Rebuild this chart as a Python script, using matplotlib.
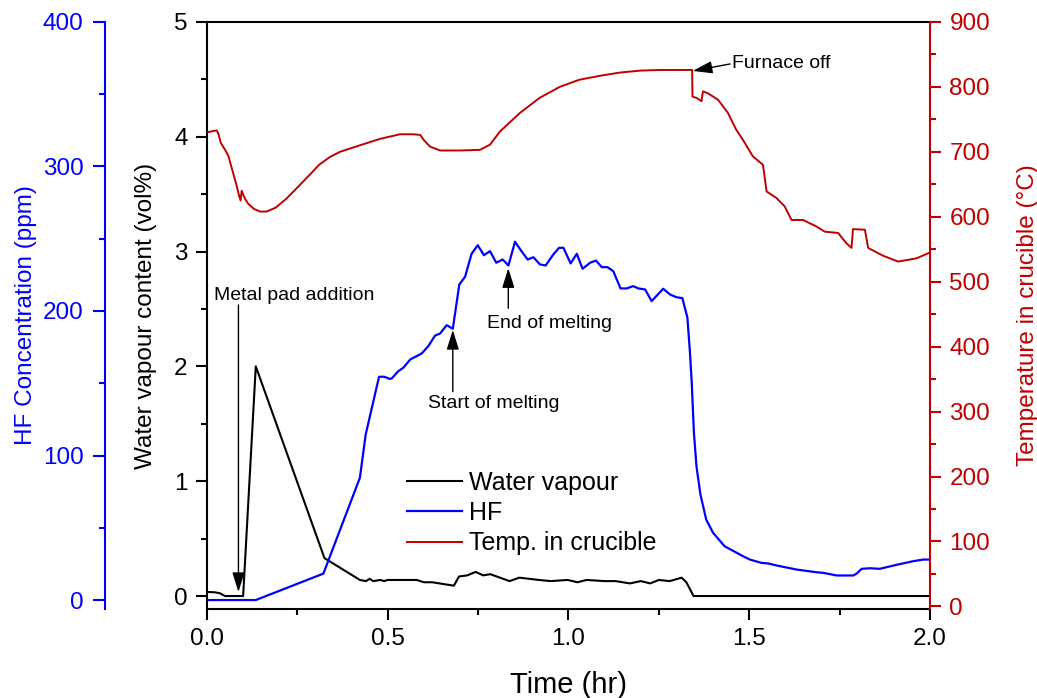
import matplotlib
matplotlib.use("Agg")
import matplotlib.pyplot as plt
from matplotlib.ticker import MultipleLocator, FormatStrFormatter

plt.rcParams['font.family'] = ['Liberation Sans', 'DejaVu Sans']

# water vapour (vol%)
water_t = [0.0, 0.02, 0.035, 0.05, 0.1, 0.135, 0.325, 0.423, 0.44, 0.45, 0.46, 0.48,
           0.49, 0.5, 0.55, 0.58, 0.6, 0.623, 0.683, 0.697, 0.72, 0.743, 0.764, 0.784,
           0.837, 0.864, 0.918, 0.95, 0.998, 1.025, 1.05, 1.1, 1.13, 1.15, 1.17, 1.2,
           1.226, 1.25, 1.28, 1.313, 1.326, 1.346, 2.0]
water_v = [0.035, 0.033, 0.025, 0.0, 0.0, 2.0, 0.33, 0.14, 0.13, 0.15, 0.13, 0.14,
           0.13, 0.14, 0.14, 0.14, 0.12, 0.12, 0.09, 0.17, 0.18, 0.21, 0.18, 0.19,
           0.13, 0.16, 0.14, 0.13, 0.14, 0.12, 0.14, 0.13, 0.13, 0.12, 0.11, 0.13,
           0.11, 0.14, 0.13, 0.16, 0.12, 0.0, 0.0]

# HF concentration (ppm)
hf_t = [0.0, 0.135, 0.322, 0.423, 0.439, 0.476, 0.49, 0.506, 0.511, 0.529, 0.543,
        0.562, 0.594, 0.612, 0.631, 0.645, 0.663, 0.68, 0.698, 0.714, 0.732, 0.749,
        0.766, 0.783, 0.8, 0.818, 0.834, 0.852, 0.87, 0.887, 0.903, 0.921, 0.937,
        0.958, 0.974, 0.986, 1.006, 1.023, 1.039, 1.06, 1.076, 1.092, 1.108, 1.124,
        1.144, 1.161, 1.179, 1.193, 1.212, 1.23, 1.262, 1.281, 1.299, 1.315, 1.329,
        1.336, 1.341, 1.347, 1.354, 1.365, 1.381, 1.4, 1.432, 1.483, 1.502, 1.534,
        1.553, 1.576, 1.631, 1.687, 1.705, 1.742, 1.788, 1.797, 1.811, 1.834, 1.861,
        1.908, 1.954, 1.981, 2.0]
hf_v = [0.0, 0.0, 18.3, 84.6, 114.5, 154.5, 154.5, 153.0, 153.3, 158.3, 160.7,
        166.4, 170.6, 175.6, 183.0, 184.4, 190.2, 187.7, 218.3, 223.7, 239.6, 245.5,
        238.6, 241.4, 233.4, 235.6, 231.5, 247.9, 241.4, 235.6, 237.2, 232.2, 231.5,
        239.1, 243.7, 243.7, 232.9, 239.6, 229.2, 233.4, 234.9, 230.3, 230.3, 227.5,
        215.6, 215.6, 217.2, 215.6, 214.9, 206.8, 215.4, 211.4, 209.5, 208.9, 195.3,
        171.3, 150.3, 115.7, 92.6, 73.0, 55.7, 46.5, 37.2, 30.3, 28.0, 25.7,
        25.3, 23.9, 21.1, 19.2, 18.8, 17.0, 17.0, 18.3, 21.6, 22.0, 21.6,
        24.4, 26.9, 28.0, 28.0]

# temperature in crucible (degC)
temp_t = [0.0, 0.027, 0.032, 0.038, 0.05, 0.059, 0.073, 0.082, 0.089, 0.093, 0.096,
          0.098, 0.105, 0.114, 0.13, 0.147, 0.165, 0.19, 0.22, 0.257, 0.29, 0.31,
          0.34, 0.368, 0.423, 0.479, 0.534, 0.57, 0.59, 0.6, 0.617, 0.645, 0.7,
          0.755, 0.783, 0.81, 0.866, 0.92, 0.976, 1.03, 1.087, 1.142, 1.198, 1.253,
          1.342, 1.343, 1.354, 1.368, 1.372, 1.386, 1.414, 1.441, 1.464, 1.483, 1.51,
          1.538, 1.548, 1.575, 1.598, 1.617, 1.649, 1.686, 1.709, 1.746, 1.769, 1.783,
          1.787, 1.82, 1.829, 1.87, 1.912, 1.963, 2.0]
temp_v = [730, 733, 727, 714, 703, 694, 666, 648, 632, 625, 640,
          637, 628, 620, 612, 608, 608, 614, 628, 649, 668, 680,
          692, 700, 710, 720, 727, 727, 726, 718, 708, 702, 702,
          703, 711, 731, 760, 783, 800, 811, 817, 822, 825, 826,
          826, 785, 783, 778, 793, 790, 780, 760, 734, 718, 693,
          680, 639, 629, 616, 595, 595, 585, 577, 575, 559, 552,
          581, 580, 552, 540, 531, 536, 545]

BLUE = '#0000FF'
RED = '#C00000'

fig = plt.figure(figsize=(10.37, 6.98), dpi=100)
ax = fig.add_axes([0.1996, 0.1275, 0.6972, 0.8411])
ax2 = ax.twinx()
ax3 = ax.twinx()

l1, = ax.plot(water_t, water_v, color='k', lw=1.5, label='Water vapour')
l2, = ax2.plot(hf_t, hf_v, color=BLUE, lw=1.6, label='HF')
l3, = ax3.plot(temp_t, temp_v, color=RED, lw=1.4, label='Temp. in crucible')

ax.set_xlim(0, 2)
ax.set_ylim(-0.113, 5)
ax2.set_ylim(-6.2, 400)
ax3.set_ylim(-4, 900)

# main axis
for s in ['left', 'bottom', 'top']:
    ax.spines[s].set_linewidth(1.5)
ax.spines['right'].set_visible(False)
ax.xaxis.set_major_locator(MultipleLocator(0.5))
ax.xaxis.set_minor_locator(MultipleLocator(0.25))
ax.yaxis.set_major_locator(MultipleLocator(1))
ax.yaxis.set_minor_locator(MultipleLocator(0.5))
ax.tick_params(axis='both', which='major', direction='out', length=8, width=1.5,
               labelsize=17.5, pad=6)
ax.tick_params(axis='both', which='minor', direction='out', length=4, width=1.5)
ax.tick_params(axis='x', top=False, which='both')
ax.xaxis.set_major_formatter(FormatStrFormatter('%.1f'))
ax.set_xlabel('Time (hr)', fontsize=21)
ax.set_ylabel('Water vapour content (vol%)', fontsize=17.5)
ax.xaxis.set_label_coords(0.5, -0.105)
ax.yaxis.set_label_coords(-0.069, 0.5)

# HF axis, offset to the left
for s in ['right', 'top', 'bottom']:
    ax2.spines[s].set_visible(False)
ax2.spines['left'].set_visible(True)
ax2.spines['left'].set_position(('axes', -0.141))
ax2.spines['left'].set_color(BLUE)
ax2.spines['left'].set_linewidth(1.5)
ax2.yaxis.set_ticks_position('left')
ax2.yaxis.set_label_position('left')
ax2.yaxis.set_major_locator(MultipleLocator(100))
ax2.yaxis.set_minor_locator(MultipleLocator(50))
ax2.tick_params(axis='y', which='major', direction='out', length=8.5, width=1.5,
                color=BLUE, labelcolor=BLUE, labelsize=17.5, pad=7)
ax2.tick_params(axis='y', which='minor', direction='out', length=4, width=1.5, color=BLUE)
ax2.set_ylabel('HF Concentration (ppm)', fontsize=17.5, color=BLUE)
ax2.yaxis.set_label_coords(-0.235, 0.5)

# temperature axis on the right
for s in ['left', 'top', 'bottom']:
    ax3.spines[s].set_visible(False)
ax3.spines['right'].set_color(RED)
ax3.spines['right'].set_linewidth(1.5)
ax3.yaxis.set_major_locator(MultipleLocator(100))
ax3.yaxis.set_minor_locator(MultipleLocator(50))
ax3.tick_params(axis='y', which='major', direction='out', length=8, width=1.5,
                color=RED, labelcolor=RED, labelsize=17.5, pad=6)
ax3.tick_params(axis='y', which='minor', direction='out', length=4, width=1.5, color=RED)
ax3.set_ylabel('Temperature in crucible (°C)', fontsize=17.5, color=RED)
ax3.yaxis.set_label_coords(1.12, 0.5)

# annotations (main axis data units)
arrow = dict(arrowstyle='-|>,head_length=0.8,head_width=0.25', color='k', lw=1,
             shrinkA=0, shrinkB=0, mutation_scale=15)
ax3.annotate('', xy=(0.087, 0.035), xytext=(0.087, 2.535), xycoords=ax.transData,
             textcoords=ax.transData, arrowprops=arrow)
ax3.text(0.019, 2.62, 'Metal pad addition', transform=ax.transData, fontsize=14,
         ha='left', va='center')
ax3.annotate('', xy=(0.68, 2.317), xytext=(0.68, 1.78), xycoords=ax.transData,
             textcoords=ax.transData, arrowprops=arrow)
ax3.text(0.611, 1.679, 'Start of melting', transform=ax.transData, fontsize=14,
         ha='left', va='center')
ax3.annotate('', xy=(0.8335, 2.855), xytext=(0.8335, 2.506), xycoords=ax.transData,
             textcoords=ax.transData, arrowprops=arrow)
ax3.text(0.774, 2.375, 'End of melting', transform=ax.transData, fontsize=14,
         ha='left', va='center')
ax3.annotate('', xy=(1.3436, 4.573), xytext=(1.447, 4.634), xycoords=ax.transData,
             textcoords=ax.transData, arrowprops=arrow)
ax3.text(1.453, 4.64, 'Furnace off', transform=ax.transData, fontsize=14,
         ha='left', va='center')

ax3.legend(handles=[l1, l2, l3], loc='upper left', bbox_to_anchor=(0.2766, 0.2351),
           frameon=False, fontsize=18, handlelength=2.2, handletextpad=0.3,
           labelspacing=0.25, borderpad=0, borderaxespad=0)

fig.savefig('out.png', dpi=100)
